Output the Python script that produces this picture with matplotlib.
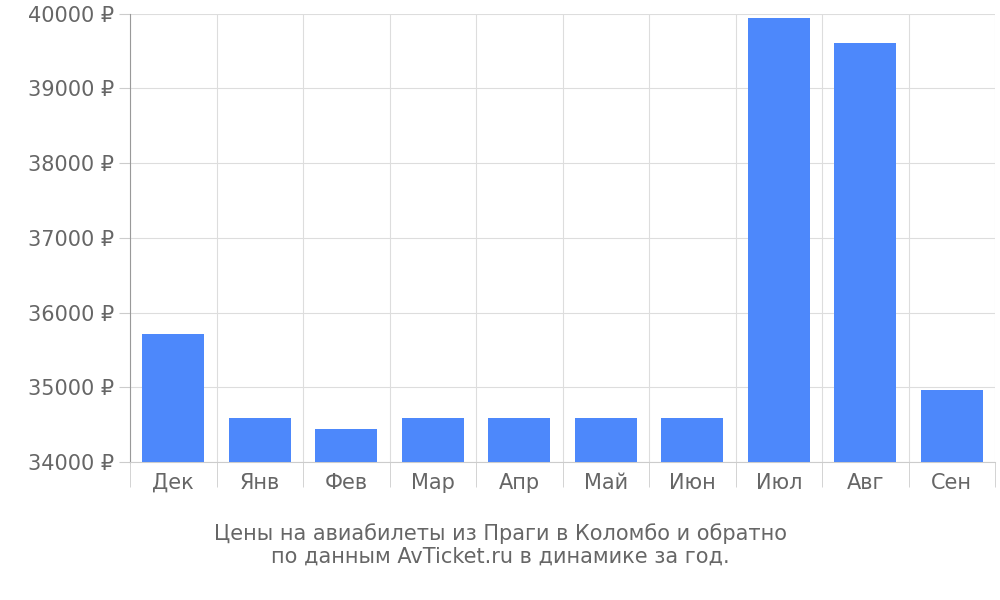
import matplotlib
matplotlib.use("Agg")
import matplotlib.pyplot as plt
import numpy as np

months = ["Дек","Янв","Фев","Мар","Апр","Май","Июн","Июл","Авг","Сен"]
prices = [35710, 34590, 34440, 34590, 34590, 34590, 34590, 39940, 39610, 34960]
yticks = [34000,35000,36000,37000,38000,39000,40000]

fig = plt.figure(figsize=(10,6), dpi=100)
ax = fig.add_axes([0.13, 0.23, 0.865, 0.747])
x = np.arange(len(months))
ax.bar(x, prices, width=0.72, color="#4d88fb", zorder=3)
ax.set_xlim(-0.5, len(months)-0.5)
ax.set_ylim(34000, 40000)
ax.set_yticks(yticks)
ax.set_yticklabels([f"{v} ₽" for v in yticks], fontsize=15, color="#666666")
ax.set_xticks(x)
ax.set_xticklabels(months, fontsize=15, color="#666666")
ax.set_xticks(np.arange(-0.5, len(months)), minor=True)
ax.tick_params(axis="x", which="major", length=0, pad=8)
ax.tick_params(axis="x", which="minor", length=18, color="#cccccc")
ax.tick_params(axis="y", length=8, color="#cccccc")
ax.grid(True, which="minor", axis="x", color="#dddddd", zorder=0)
ax.grid(True, which="major", axis="y", color="#dddddd", zorder=0)
for s in ["top","right"]:
    ax.spines[s].set_visible(False)
ax.spines["left"].set_color("#999999")
ax.spines["bottom"].set_color("#cccccc")
fig.text(0.5, 0.055, "Цены на авиабилеты из Праги в Коломбо и обратно\nпо данным AvTicket.ru в динамике за год.",
         ha="center", va="bottom", fontsize=15, color="#666666", linespacing=1.2)
fig.savefig("out.png")
